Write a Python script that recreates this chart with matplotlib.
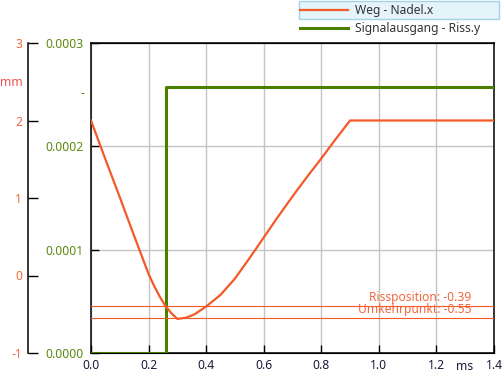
import numpy as np
import matplotlib.pyplot as plt
from matplotlib.lines import Line2D
from matplotlib.patches import Rectangle

plt.rcParams['font.family'] = ['Noto Sans', 'DejaVu Sans']
plt.rcParams['font.size'] = 8.7

# Weg - Nadel.x (mm) over time (ms)
t_weg = [0.0, 0.05, 0.1, 0.15, 0.2, 0.22, 0.24, 0.26, 0.28, 0.3,
         0.33, 0.36, 0.4, 0.45, 0.5, 0.55, 0.6, 0.65, 0.7, 0.75, 0.8, 0.85, 0.9, 1.4]
weg = [2.0, 1.5, 1.01, 0.51, 0.02, -0.14, -0.28, -0.40, -0.49, -0.56,
       -0.545, -0.50, -0.40, -0.25, -0.04, 0.22, 0.49, 0.76, 1.02, 1.27, 1.51, 1.76, 2.0, 2.0]

# Signalausgang - Riss.y
t_sig = [0.0, 0.26, 1.4]
sig = [0.0, 0.000257, 0.000257]

riss_pos = -0.39
umkehr = -0.55

x_ticks = [0.0, 0.2, 0.4, 0.6, 0.8, 1.0, 1.2, 1.4]
sig_ticks = [0.0, 0.0001, 0.0002, 0.0003]
mm_ticks = [-1, 0, 1, 2, 3]

orange = '#f25a28'
orange_txt = '#f2683c'
green = '#4a7f00'
green_txt = '#5a8a10'

W, H = 504, 374
PT = 72 / 100  # pixels -> points
fig = plt.figure(figsize=(W / 100, H / 100), dpi=100)
ax = fig.add_axes([91 / W, (H - 353) / H, (494 - 91) / W, (353 - 43) / H])

# green signal on the main axis
ax.plot(t_sig, sig, drawstyle='steps-post', color=green, lw=2.2, zorder=3)
ax.set_xlim(0, 1.4)
ax.set_ylim(0, 0.0003)
ax.set_xticks(x_ticks)
ax.set_xticklabels(['%.1f' % v for v in x_ticks], color='#1a1a3a')
ax.set_yticks(sig_ticks)
ax.set_yticklabels(['%.4f' % v for v in sig_ticks], color=green_txt)
ax.tick_params(axis='both', direction='in', length=8 * PT, width=1)
ax.tick_params(axis='x', pad=6 * PT)
ax.tick_params(axis='y', pad=7 * PT)
ax.grid(True, color='#c4c4c4', lw=1)
for s in ax.spines.values():
    s.set_linewidth(1.1)

fig.text(82 / W, 1 - 94 / H, '-', color=green_txt, ha='center', va='center')
fig.text(465 / W, 1 - 367 / H, 'ms', color='#1a1a3a', ha='center', va='center')

# orange Weg on the twin axis with an outer left spine
ax2 = ax.twinx()
ax2.plot(t_weg, weg, color=orange, lw=1.6, zorder=4)
ax2.axhline(riss_pos, color=orange, lw=0.8)
ax2.axhline(umkehr, color=orange, lw=0.8)
ax2.set_ylim(-1, 3)
ax2.yaxis.set_ticks_position('left')
ax2.yaxis.set_label_position('left')
ax2.spines['left'].set_position(('outward', 63 * PT))
ax2.spines['left'].set_linewidth(1.1)
ax2.spines['right'].set_visible(False)
ax2.set_yticks(mm_ticks)
ax2.set_yticklabels([str(v) for v in mm_ticks], color=orange_txt)
ax2.tick_params(axis='y', direction='in', length=10 * PT, width=1, pad=6 * PT)
fig.text(11 / W, 1 - 82 / H, 'mm', color='#f05050', ha='center', va='center')

ax2.text(1.322, -0.28, 'Rissposition: %.2f' % riss_pos, color=orange_txt,
         ha='right', va='center')
ax2.text(1.322, -0.445, 'Umkehrpunkt: %.2f' % umkehr, color=orange_txt,
         ha='right', va='center')

# legend above the plot, first entry highlighted
fig.patches.append(Rectangle((299 / W, 1 - 19 / H), 200 / W, 18 / H,
                             transform=fig.transFigure, facecolor='#e5f3fb',
                             edgecolor='#a6d2e6', lw=1, zorder=0))
handles = [Line2D([], [], color=orange, lw=1.6), Line2D([], [], color=green, lw=2.2)]
fig.legend(handles, ['Weg - Nadel.x', 'Signalausgang - Riss.y'],
           loc='upper left', bbox_to_anchor=(298 / W, 1 - 2 / H), frameon=False,
           handlelength=3.9, handletextpad=0.6, labelspacing=0.42,
           borderpad=0.2, borderaxespad=0, labelcolor='#333333')

fig.savefig('out.png', dpi=100)
